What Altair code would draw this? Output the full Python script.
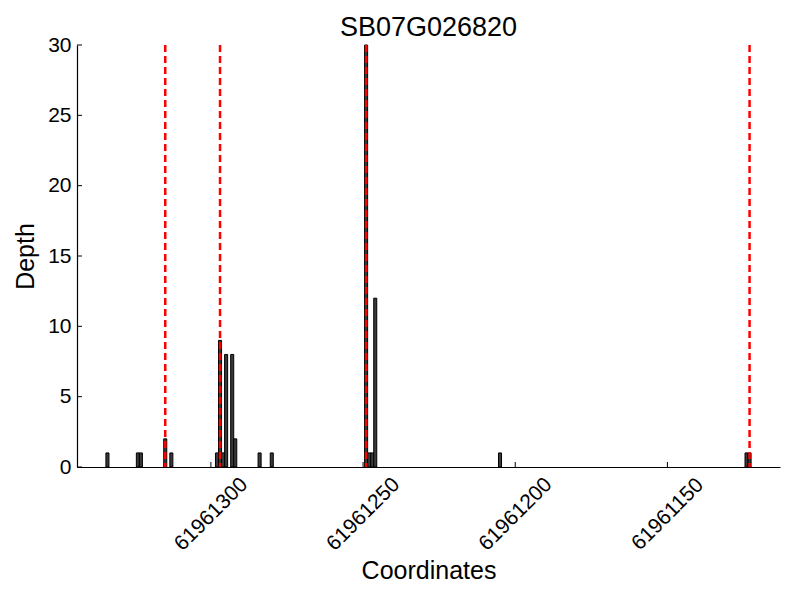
import altair as alt
import pandas as pd

# Data
positions = [61961334, 61961324, 61961323, 61961315, 61961313,
             61961298, 61961297, 61961296, 61961295, 61961293, 61961292,
             61961284, 61961280,
             61961249, 61961248, 61961247, 61961246,
             61961205, 61961124, 61961123]
depths = [1, 1, 1, 2, 1,
          1, 9, 1, 8, 8, 2,
          1, 1,
          30, 1, 1, 12,
          1, 1, 1]
boundaries = [61961315, 61961297, 61961249, 61961123]
x_tick_values = [61961300, 61961250, 61961200, 61961150]
y_tick_values = [0, 5, 10, 15, 20, 25, 30]
title_text = "SB07G026820"

FONT = "Liberation Sans"
W, H = 703, 422

bars_df = pd.DataFrame({"pos": positions, "depth": depths})
lines_df = pd.DataFrame({"pos": boundaries})
xt_df = pd.DataFrame({"t": x_tick_values})
yt_df = pd.DataFrame({"v": y_tick_values})

xscale = alt.Scale(domain=[61961113, 61961344], reverse=True, nice=False, zero=False)
yscale = alt.Scale(domain=[0, 30], nice=False)

x_axis = alt.Axis(values=x_tick_values, format="d", labelAngle=315, labelAlign="center",
                  labelBaseline="middle", labelPadding=47, ticks=False, tickSize=0,
                  grid=False, domainColor="black", domainWidth=1.2,
                  labelFont=FONT, labelFontSize=21, labelColor="black",
                  title="Coordinates", titleFont=FONT, titleFontSize=25,
                  titleFontWeight="normal", titleColor="black",
                  titleY=111, titleBaseline="alphabetic", labelOverlap=False)
y_axis = alt.Axis(values=y_tick_values, ticks=False, tickSize=0, labelPadding=6,
                  grid=False, domainColor="black", domainWidth=1.2,
                  labelFont=FONT, labelFontSize=21, labelColor="black",
                  title="Depth", titleFont=FONT, titleFontSize=25,
                  titleFontWeight="normal", titleColor="black",
                  titleX=-52, titleY=H / 2, titleAngle=270,
                  titleAlign="center", titleBaseline="middle")

bars = alt.Chart(bars_df).transform_calculate(
    x0="datum.pos - 0.5", x1="datum.pos + 0.5"
).mark_rect(fill="#3a3a3a", stroke="black", strokeWidth=1).encode(
    x=alt.X("x0:Q", scale=xscale, axis=x_axis),
    x2="x1:Q",
    y=alt.Y("depth:Q", scale=yscale, axis=y_axis),
    y2=alt.datum(0),
)

lines = alt.Chart(lines_df).mark_rule(color="red", strokeWidth=2.5, strokeDash=[7, 4]).encode(
    x=alt.X("pos:Q", scale=xscale, axis=x_axis),
)

xticks = alt.Chart(xt_df).mark_rule(color="black", strokeWidth=1).encode(
    x=alt.X("t:Q", scale=xscale, axis=x_axis),
    y=alt.value(H), y2=alt.value(H - 5),
)
yticks = alt.Chart(yt_df).mark_rule(color="black", strokeWidth=1).encode(
    y=alt.Y("v:Q", scale=yscale, axis=y_axis),
    x=alt.value(0), x2=alt.value(5),
)

chart = alt.layer(bars, xticks, yticks, lines).properties(
    width=W, height=H,
    background="white",
    title=alt.TitleParams(title_text, font=FONT, fontSize=27, fontWeight="normal",
                          color="black", anchor="middle", offset=6, dy=14),
    autosize=alt.AutoSizeParams(type="none"),
    padding={"left": 69, "top": 37, "right": 12, "bottom": 125},
).configure_view(stroke=None)

chart.save("out.html", embed_options={"renderer": "svg", "actions": False})
